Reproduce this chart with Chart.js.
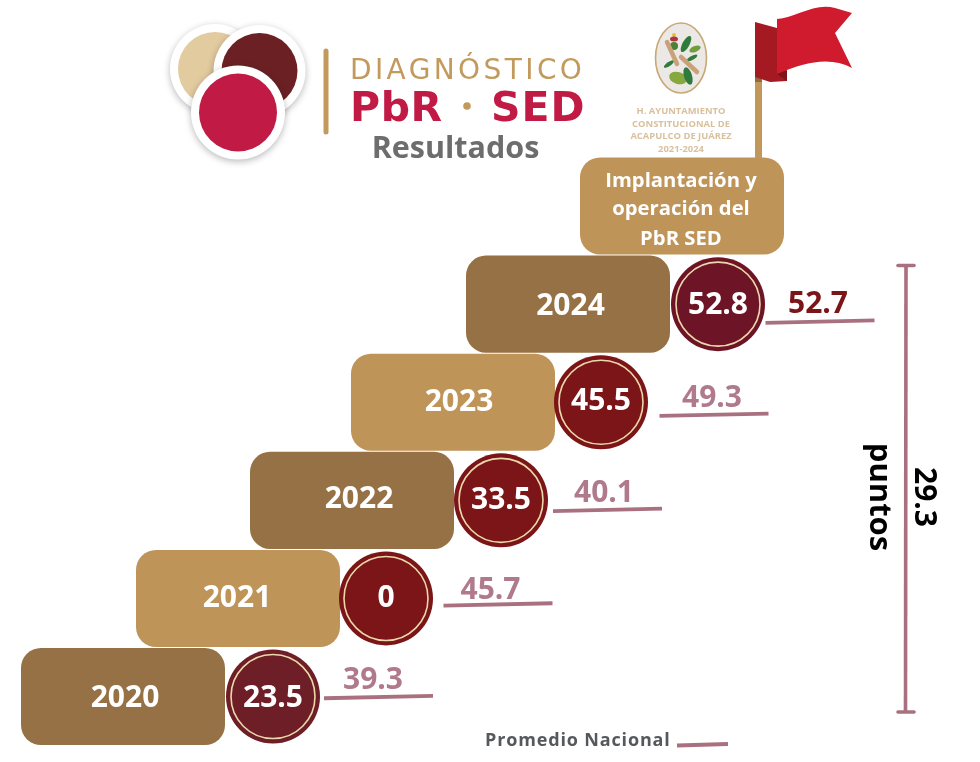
<!DOCTYPE html>
<html lang="es">
<head>
<meta charset="utf-8">
<title>Diagnóstico PbR SED - Resultados</title>
<script src="https://cdn.jsdelivr.net/npm/chart.js@4/dist/chart.umd.min.js"></script>
<style>
  html, body { margin: 0; padding: 0; background: #fff; }
  #wrap { position: relative; width: 980px; height: 762px; }
</style>
</head>
<body>
<div id="wrap"><canvas id="chart" width="980" height="762"></canvas></div>
<script>
// data, top step to bottom step
const topStep = 'Implantación y operación del PbR SED';
const years = ['2024', '2023', '2022', '2021', '2020'];
const scores = [52.8, 45.5, 33.5, 0, 23.5];
const nationalAvg = [52.7, 49.3, 40.1, 45.7, 39.3];
const gain = 29.3;

// layout of the staircase (px on the x scale), not data
const stepWidth = 204;
const topStepLeft = 580;
const stepLeft = [466, 351, 250, 136, 21];
const circleX = [718, 601, 501, 386, 273];
const avgLineX = [820, 714, 607.5, 498, 378.5];
const avgTextX = [818, 712, 604, 490.5, 373];
const avgDrop = [17.5, 12.5, 9.5, 6, 0.5];
const avgLift = [8.5, 8, 8, 5, 8];
const yearTextX = [570.5, 459, 359, 237, 125];
const yearDrop = [11, 9, 8, 9, 10];
const scoreDrop = [10, 8, 9, 9, 10];

const DARK = '#967145', LIGHT = '#bf9459', ROSE = '#a9717f';
const circleColors = ['#6e1427', '#7b1518', '#7b1518', '#7b1518', '#6e1e26'];
const FONT = '"Open Sans", sans-serif';

function text(ctx, str, x, y, font, color, align, spacing) {
  ctx.font = font;
  ctx.fillStyle = color;
  ctx.textAlign = align || 'center';
  ctx.textBaseline = 'alphabetic';
  ctx.letterSpacing = spacing || '0px';
  ctx.fillText(str, x, y);
  ctx.letterSpacing = '0px';
}

function disc(ctx, x, y, r, fill, ring) {
  ctx.save();
  ctx.shadowColor = 'rgba(0,0,0,.28)';
  ctx.shadowBlur = 7;
  ctx.shadowOffsetY = 2;
  ctx.fillStyle = '#fff';
  ctx.beginPath(); ctx.arc(x, y, ring, 0, Math.PI * 2); ctx.fill();
  ctx.restore();
  ctx.fillStyle = fill;
  ctx.beginPath(); ctx.arc(x, y, r, 0, Math.PI * 2); ctx.fill();
}

function blob(ctx, x, y, rx, ry, rot, color) {
  ctx.fillStyle = color;
  ctx.beginPath(); ctx.ellipse(x, y, rx, ry, rot, 0, Math.PI * 2); ctx.fill();
}

function poly(ctx, pts, color) {
  ctx.fillStyle = color;
  ctx.beginPath();
  pts.forEach((p, i) => i ? ctx.lineTo(p[0], p[1]) : ctx.moveTo(p[0], p[1]));
  ctx.closePath();
  ctx.fill();
}

function rule(ctx, x1, y1, x2, y2, w, color, cap) {
  ctx.strokeStyle = color;
  ctx.lineWidth = w;
  ctx.lineCap = cap || 'butt';
  ctx.beginPath(); ctx.moveTo(x1, y1); ctx.lineTo(x2, y2); ctx.stroke();
}

function drawLogo(ctx) {
  disc(ctx, 215, 69, 37, '#e3cba0', 45);
  disc(ctx, 259.5, 71, 38, '#6b2123', 46);
  disc(ctx, 238, 112.5, 39, '#c01a45', 47);
  rule(ctx, 326, 51, 326, 132, 5, '#c39a5e', 'round');
  text(ctx, 'DIAGNÓSTICO', 350, 79, '400 28px "DejaVu Sans"', '#c39a5e', 'left', '3.4px');
  text(ctx, 'PbR', 350, 120.5, '800 41px "DejaVu Sans"', '#c01a45', 'left', '0.6px');
  blob(ctx, 467, 106, 3.8, 3.8, 0, '#c39a5e');
  text(ctx, 'SED', 491, 120.5, '800 41px "DejaVu Sans"', '#c01a45', 'left', '1px');
  text(ctx, 'Resultados', 455.5, 158, '700 30.5px ' + FONT, '#6d6d6d');
}

function drawEmblem(ctx) {
  blob(ctx, 681, 58, 25.5, 35, 0, '#ece8e5');
  ctx.strokeStyle = '#c8a873';
  ctx.lineWidth = 1.6;
  ctx.beginPath(); ctx.ellipse(681, 58, 25.5, 35, 0, 0, Math.PI * 2); ctx.stroke();
  blob(ctx, 674, 35, 2, 2, 0, '#e3c23a');
  blob(ctx, 674, 39, 4, 2.5, 0, '#b0353d');
  blob(ctx, 674, 46, 4, 4, 0, '#4c7f3a');
  blob(ctx, 686, 44, 3.5, 9, 0.5, '#2f7a3d');
  blob(ctx, 695, 49, 6, 3, -0.4, '#6f9e3c');
  blob(ctx, 692, 58, 6, 2, -0.5, '#2f7a3d');
  blob(ctx, 669, 64, 6, 2, -0.6, '#2f7a3d');
  blob(ctx, 678, 78, 9, 6, 0.3, '#86a83f');
  blob(ctx, 688, 76, 4, 9, -0.3, '#2f7a3d');
  rule(ctx, 667, 42, 677, 64, 4.5, '#c9a27a', 'round');
  rule(ctx, 681, 57, 697, 72, 4.5, '#c9a27a', 'round');
  const c = '#d9c19e', f = '700 9.4px ' + FONT;
  text(ctx, 'H. AYUNTAMIENTO', 681, 114, f, c);
  text(ctx, 'CONSTITUCIONAL DE', 681, 127, f, c);
  text(ctx, 'ACAPULCO DE JUÁREZ', 681, 139, f, c);
  text(ctx, '2021-2024', 681, 152, f, c);
}

function drawFlag(ctx) {
  ctx.fillStyle = '#c1975a';
  ctx.fillRect(755, 76, 7, 83);
  ctx.fillStyle = '#8f6c40';
  ctx.fillRect(755, 76, 7, 6);
  poly(ctx, [[755, 22], [777, 28], [787, 74], [787, 81], [770, 82], [755, 77]], '#a51a22');
  poly(ctx, [[777, 74], [787, 70], [787, 81]], '#7c1419');
  ctx.fillStyle = '#d01b2e';
  ctx.beginPath();
  ctx.moveTo(777, 19);
  ctx.bezierCurveTo(795, 18, 815, 2, 835, 8);
  ctx.lineTo(852, 13);
  ctx.lineTo(835, 33);
  ctx.lineTo(852, 68);
  ctx.bezierCurveTo(830, 56, 805, 62, 777, 74);
  ctx.closePath();
  ctx.fill();
}

// everything the library has no element for: logos, labels, underlines, bracket
const decorations = {
  id: 'decorations',
  afterDraw(chart) {
    const ctx = chart.ctx;
    const circles = chart.getDatasetMeta(1).data;
    const avg = chart.getDatasetMeta(2).data;
    const yScale = chart.scales.y;
    ctx.save();
    drawLogo(ctx);
    drawEmblem(ctx);
    drawFlag(ctx);

    const boxY = yScale.getPixelForValue(0);
    const boxX = chart.scales.x.getPixelForValue(topStepLeft + stepWidth / 2);
    const boxFont = '700 20.3px ' + FONT;
    text(ctx, 'Implantación y', boxX - 1, boxY - 19, boxFont, '#fff');
    text(ctx, 'operación del', boxX - 1, boxY + 9, boxFont, '#fff');
    text(ctx, 'PbR SED', boxX - 1, boxY + 39, boxFont, '#fff');

    years.forEach((year, i) => {
      const cy = circles[i].y;
      text(ctx, year, yearTextX[i], cy + yearDrop[i], '700 30px ' + FONT, '#fff');
      text(ctx, String(scores[i]), circles[i].x, cy + scoreDrop[i], '700 30px ' + FONT, '#fff');
      const ly = avg[i].y + avgDrop[i];
      rule(ctx, avg[i].x - 54.5, ly + 1.2, avg[i].x + 54.5, ly - 1.2, 3.8, ROSE);
      text(ctx, nationalAvg[i].toFixed(1), avgTextX[i], ly - avgLift[i], '700 30px ' + FONT, i === 0 ? '#7b1518' : '#b07a8c');
    });

    // bracket on the right
    rule(ctx, 906, 265, 905.5, 712, 3.6, ROSE);
    rule(ctx, 898, 265.5, 914, 265.5, 3.6, ROSE, 'round');
    rule(ctx, 898, 712, 914, 712, 3.6, ROSE, 'round');
    ctx.save();
    ctx.translate(915, 497);
    ctx.rotate(Math.PI / 2);
    text(ctx, String(gain), 0, 0, '700 30px ' + FONT, '#000');
    ctx.restore();
    ctx.save();
    ctx.translate(870, 497);
    ctx.rotate(Math.PI / 2);
    text(ctx, 'puntos', 0, 0, '700 31px ' + FONT, '#000');
    ctx.restore();

    // key
    text(ctx, 'Promedio Nacional', 485, 746, '700 18px ' + FONT, '#55595c', 'left', '0.85px');
    rule(ctx, 677, 745.5, 728, 744, 3.8, ROSE);
    ctx.restore();
  }
};

new Chart(document.getElementById('chart'), {
  type: 'bar',
  data: {
    labels: [topStep, ...years],
    datasets: [
      {
        // cream ring inside each score circle, listed first so it draws on top
        type: 'scatter',
        indexAxis: 'x',
        data: years.map((y, i) => ({ x: circleX[i], y })),
        pointRadius: 42,
        pointBackgroundColor: 'rgba(0,0,0,0)',
        pointBorderColor: '#ecd9ab',
        pointBorderWidth: 1.6,
        clip: false
      },
      {
        type: 'scatter',
        indexAxis: 'x',
        label: 'Resultado',
        data: years.map((y, i) => ({ x: circleX[i], y })),
        pointRadius: 47,
        pointBackgroundColor: circleColors,
        pointBorderWidth: 0,
        clip: false
      },
      {
        type: 'scatter',
        indexAxis: 'x',
        label: 'Promedio Nacional',
        data: years.map((y, i) => ({ x: avgLineX[i], y })),
        pointRadius: 0,
        clip: false
      },
      {
        type: 'bar',
        indexAxis: 'y',
        data: [
          [topStepLeft, topStepLeft + stepWidth],
          ...stepLeft.map(left => [left, left + stepWidth])
        ],
        backgroundColor: [LIGHT, DARK, LIGHT, DARK, LIGHT, DARK],
        borderRadius: 20,
        borderSkipped: false,
        borderWidth: 0,
        barPercentage: 1,
        categoryPercentage: 0.99
      }
    ]
  },
  options: {
    responsive: false,
    animation: false,
    events: [],
    layout: { autoPadding: false, padding: { left: 0, right: 0, top: 157, bottom: 16.4 } },
    plugins: { legend: { display: false }, tooltip: { enabled: false }, title: { display: false } },
    scales: {
      x: { type: 'linear', min: 0, max: 980, offset: false, display: false },
      y: { type: 'category', offset: true, display: false }
    }
  },
  plugins: [decorations]
});
</script>
</body>
</html>
